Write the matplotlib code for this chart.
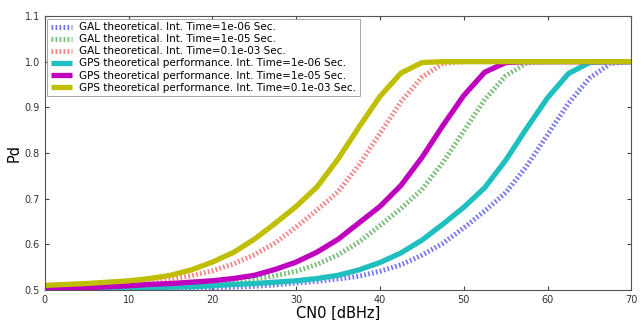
import matplotlib.pyplot as plt
import numpy as np

# CN0 grid (dBHz), values every 2.5 dB
cn0 = np.arange(0, 70.1, 2.5)

gal_1e06 = [0.500, 0.500, 0.501, 0.501, 0.502, 0.502, 0.503, 0.504, 0.505, 0.506,
            0.508, 0.511, 0.515, 0.519, 0.524, 0.530, 0.541, 0.555, 0.576, 0.602,
            0.636, 0.673, 0.713, 0.771, 0.840, 0.909, 0.964, 0.996, 1.000]
gal_1e05 = [0.501, 0.502, 0.503, 0.504, 0.505, 0.507, 0.509, 0.512, 0.515, 0.519,
            0.524, 0.531, 0.541, 0.556, 0.577, 0.605, 0.641, 0.678, 0.720, 0.779,
            0.848, 0.917, 0.969, 0.997, 1.000, 1.000, 1.000, 1.000, 1.000]
gal_1e04 = [0.503, 0.505, 0.508, 0.511, 0.515, 0.519, 0.524, 0.531, 0.542, 0.557,
            0.577, 0.603, 0.638, 0.675, 0.715, 0.774, 0.843, 0.912, 0.966, 0.996,
            1.000, 1.000, 1.000, 1.000, 1.000, 1.000, 1.000, 1.000, 1.000]
gps_1e06 = [0.501, 0.501, 0.502, 0.503, 0.504, 0.505, 0.506, 0.507, 0.509, 0.512,
            0.514, 0.517, 0.520, 0.525, 0.532, 0.544, 0.560, 0.581, 0.609, 0.644,
            0.681, 0.724, 0.784, 0.854, 0.921, 0.974, 0.998, 1.000, 1.000]
gps_1e05 = [0.503, 0.504, 0.505, 0.507, 0.509, 0.512, 0.514, 0.517, 0.520, 0.525,
            0.532, 0.545, 0.561, 0.583, 0.611, 0.647, 0.683, 0.729, 0.790, 0.860,
            0.926, 0.977, 0.998, 1.000, 1.000, 1.000, 1.000, 1.000, 1.000]
gps_1e04 = [0.510, 0.512, 0.514, 0.517, 0.520, 0.525, 0.532, 0.544, 0.561, 0.582,
            0.611, 0.646, 0.683, 0.726, 0.787, 0.857, 0.924, 0.975, 0.998, 1.000,
            1.000, 1.000, 1.000, 1.000, 1.000, 1.000, 1.000, 1.000, 1.000]

gal_series = [
    (gal_1e06, "#7878ee", "GAL theoretical. Int. Time=1e-06 Sec."),
    (gal_1e05, "#78bc78", "GAL theoretical. Int. Time=1e-05 Sec."),
    (gal_1e04, "#f08888", "GAL theoretical. Int. Time=0.1e-03 Sec."),
]
gps_series = [
    (gps_1e06, "#1fbfbf", "GPS theoretical performance. Int. Time=1e-06 Sec."),
    (gps_1e05, "#bf00bf", "GPS theoretical performance. Int. Time=1e-05 Sec."),
    (gps_1e04, "#bfbf00", "GPS theoretical performance. Int. Time=0.1e-03 Sec."),
]

fig = plt.figure(figsize=(6.41, 3.2), dpi=100)
ax = fig.add_axes([0.070, 0.094, 0.915, 0.856])

# GAL curves look like a ladder of short vertical ticks -> fine dashes on a thick line
for vals, col, lab in gal_series:
    ax.plot(cn0, vals, color=col, lw=3.6, dashes=(0.35, 0.45), label=lab)
for vals, col, lab in gps_series:
    ax.plot(cn0, vals, color=col, lw=3.8, solid_capstyle="butt",
            solid_joinstyle="round", label=lab)

ax.set_xlim(0, 70)
ax.set_ylim(0.5, 1.1)
ax.set_xticks(np.arange(0, 71, 10))
ax.set_yticks(np.arange(0.5, 1.11, 0.1))
ax.set_yticklabels(["0.5", "0.6", "0.7", "0.8", "0.9", "1.0", "1.1"])
ax.tick_params(direction="in", top=True, right=True, labelsize=7, length=3,
               colors="#444444", labelcolor="#333333")
for sp in ax.spines.values():
    sp.set_color("#555555")
    sp.set_linewidth(0.8)

ax.set_xlabel("CN0 [dBHz]", fontsize=10.5, labelpad=1)
ax.set_ylabel("Pd", fontsize=10.5, labelpad=2)

leg = ax.legend(loc="upper left", fontsize=7.5, handlelength=2.0, borderaxespad=0.25,
                labelspacing=0.2, fancybox=False, framealpha=1.0, borderpad=0.35,
                handletextpad=0.7)
leg.get_frame().set_edgecolor("#999999")
leg.get_frame().set_linewidth(0.6)

fig.savefig("out.png", dpi=100)
